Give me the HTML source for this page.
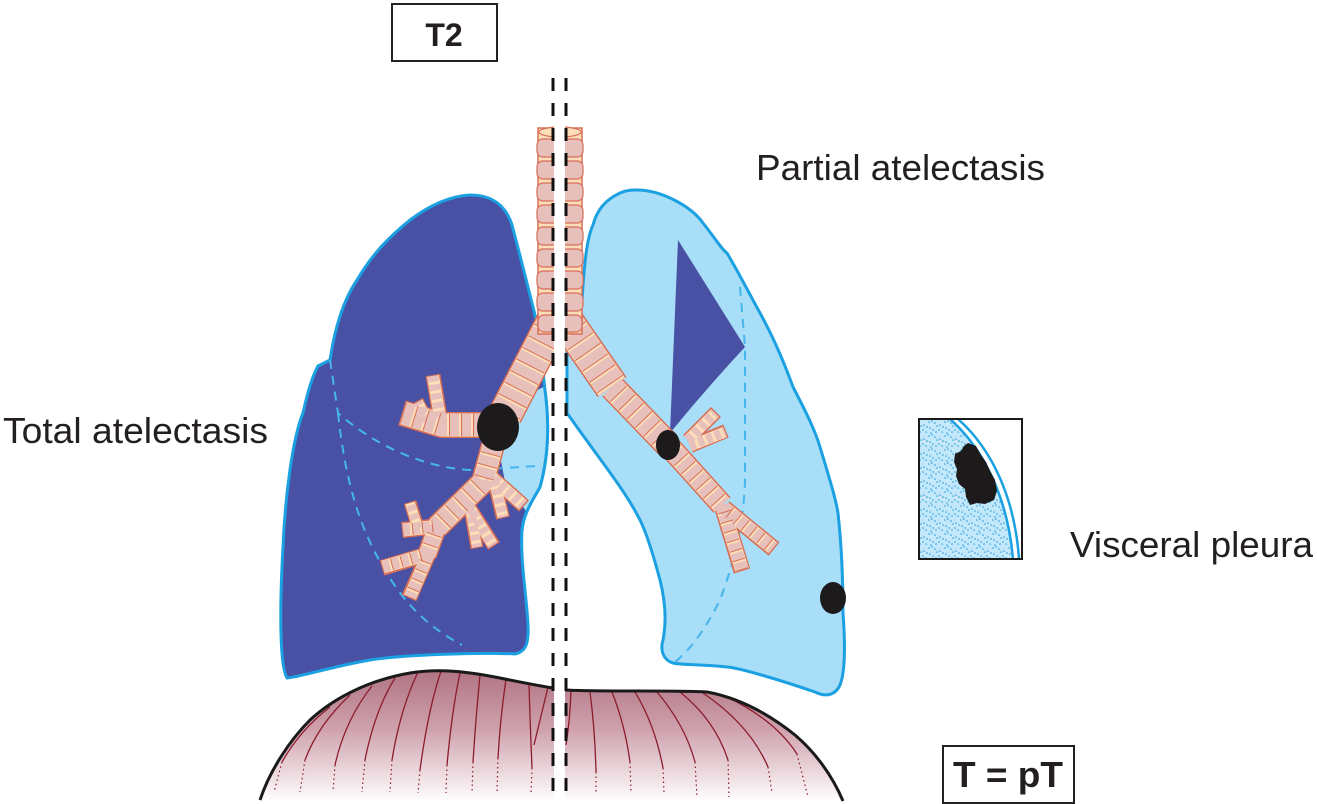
<!DOCTYPE html>
<html>
<head>
<meta charset="utf-8">
<style>
html,body{margin:0;padding:0;background:#fff;}
svg{display:block;}
text{font-family:"Liberation Sans",Arial,sans-serif;fill:#231f20;}
</style>
</head>
<body>
<svg width="1317" height="804" viewBox="0 0 1317 804" xmlns="http://www.w3.org/2000/svg">
<defs>
  <linearGradient id="dg" x1="0" y1="670" x2="0" y2="802" gradientUnits="userSpaceOnUse">
    <stop offset="0" stop-color="#b07383"/>
    <stop offset="0.45" stop-color="#cfa1ad"/>
    <stop offset="1" stop-color="#ffffff"/>
  </linearGradient>
  <pattern id="cells" width="16" height="14" patternUnits="userSpaceOnUse">
    <rect width="16" height="14" fill="#c3e8f9"/>
    <g fill="#2a9fdc">
      <circle cx="1" cy="2" r="0.8"/><circle cx="4" cy="1" r="0.8"/><circle cx="7" cy="3" r="0.8"/>
      <circle cx="9" cy="6" r="0.8"/><circle cx="12" cy="5" r="0.8"/><circle cx="15" cy="7" r="0.8"/>
      <circle cx="2" cy="8" r="0.8"/><circle cx="5" cy="10" r="0.8"/><circle cx="8" cy="12" r="0.8"/>
      <circle cx="11" cy="10" r="0.8"/><circle cx="14" cy="12" r="0.8"/><circle cx="3" cy="13" r="0.8"/>
    </g>
  </pattern>
  <clipPath id="insetClip"><rect x="920" y="420" width="101" height="138"/></clipPath>
</defs>

<!-- LEFT LUNG (total atelectasis) -->
<path d="M470,195 C490,195 505,203 512,225 C520,255 530,295 538,327 L545,390 C549,420 549,455 540,487 C533,500 524,512 522,530 C520,560 527,600 528,625 C529,645 525,652 515,654 C480,652 400,655 370,660 C330,667 300,677 287,678 C279,665 280,600 283,547 C285,500 292,440 303,413 C308,390 313,375 318,366 L330,360 C333,340 340,305 357,280 C370,258 385,240 410,220 C430,205 450,196 470,195 Z" fill="#4851a3" stroke="#1ba1e2" stroke-width="3" stroke-linejoin="round"/>
<path d="M543,387 C549,420 549,455 540,487 C534,498 529,505 526,511 L505,482 L498,445 L520,400 Z" fill="#a8def7"/>
<path d="M545,390 C549,420 549,455 540,487 C533,500 524,512 522,530" fill="none" stroke="#1ba1e2" stroke-width="3"/>
<g fill="none" stroke="#45b6ec" stroke-width="2" stroke-dasharray="9 7">
  <path d="M330,360 L338,413 C380,450 430,468 470,470 L537,466"/>
  <path d="M338,413 C345,480 360,530 385,570 C405,605 430,628 462,645"/>
</g>

<!-- RIGHT LUNG (partial atelectasis) -->
<path d="M637,190 C660,190 690,205 703,223 C715,238 722,250 727,253 C740,275 750,295 760,313 C775,340 785,365 793,387 C805,410 815,430 820,447 C830,480 836,500 838,513 C842,550 843,580 843,613 C845,640 846,670 840,685 C835,696 825,697 815,692 C780,680 740,668 727,667 C700,664 680,665 673,663 C663,660 660,650 663,640 C667,620 665,600 660,580 C652,550 645,530 640,520 C625,490 600,460 567,413 L567,345 C575,335 580,320 582,300 C584,270 586,240 593,225 C597,210 605,200 620,193 C627,190 632,190 637,190 Z" fill="#a8def7" stroke="#1ba1e2" stroke-width="3" stroke-linejoin="round"/>
<g fill="none" stroke="#45b6ec" stroke-width="2" stroke-dasharray="9 7">
  <path d="M740,287 L745,347 L745,480 C744,520 735,560 720,600 C705,630 690,650 675,662"/>
</g>
<path d="M678,240 L745,347 Q705,390 670,433 Z" fill="#4851a3"/>

<!-- BRONCHI -->
<g fill="none" stroke-linejoin="round" stroke-linecap="butt">
  <g stroke="#d66d57">
    <path d="M553,322 L505,415" stroke-width="35"/>
    <path d="M567,322 L612,387" stroke-width="35"/>
    <path d="M612,387 L668,445" stroke-width="27"/>
    <path d="M668,445 L722,505" stroke-width="23"/>
    <path d="M722,505 L742,571" stroke-width="17"/>
    <path d="M724,508 L774,549" stroke-width="17"/>
    <path d="M688,440 L716,412" stroke-width="14"/>
    <path d="M690,446 L726,431" stroke-width="14"/>
    <path d="M495,425 L442,425 L402,413" stroke-width="26"/>
    <path d="M440,417 L433,375" stroke-width="15"/>
    <path d="M428,421 L417,401" stroke-width="13"/>
    <path d="M493,445 L483,482 L437,527" stroke-width="24"/>
    <path d="M440,526 L402,530" stroke-width="16"/>
    <path d="M418,528 L410,502" stroke-width="13"/>
    <path d="M437,527 L427,555" stroke-width="20"/>
    <path d="M428,554 L382,568" stroke-width="16"/>
    <path d="M428,555 L409,598" stroke-width="16"/>
    <path d="M487,473 L524,506" stroke-width="15"/>
    <path d="M494,480 L503,518" stroke-width="14"/>
    <path d="M468,505 L494,546" stroke-width="14"/>
    <path d="M470,508 L477,548" stroke-width="13"/>
  </g>
  <g stroke="#fcdfb8">
    <path d="M553,322 L505,415" stroke-width="32"/>
    <path d="M567,322 L612,387" stroke-width="32"/>
    <path d="M612,387 L668,445" stroke-width="24"/>
    <path d="M668,445 L722,505" stroke-width="20"/>
    <path d="M722,505 L742,570" stroke-width="14"/>
    <path d="M724,508 L773,548" stroke-width="14"/>
    <path d="M688,440 L715,413" stroke-width="11"/>
    <path d="M690,446 L725,432" stroke-width="11"/>
    <path d="M495,425 L442,425 L403,413" stroke-width="23"/>
    <path d="M440,417 L433,376" stroke-width="12"/>
    <path d="M428,421 L418,402" stroke-width="10"/>
    <path d="M493,445 L483,482 L437,527" stroke-width="21"/>
    <path d="M440,526 L403,530" stroke-width="13"/>
    <path d="M418,528 L410,503" stroke-width="10"/>
    <path d="M437,527 L427,555" stroke-width="17"/>
    <path d="M428,554 L383,567" stroke-width="13"/>
    <path d="M428,555 L410,597" stroke-width="13"/>
    <path d="M487,473 L523,505" stroke-width="12"/>
    <path d="M494,480 L503,517" stroke-width="11"/>
    <path d="M468,505 L493,545" stroke-width="11"/>
    <path d="M470,508 L477,547" stroke-width="10"/>
  </g>
  <g stroke="#e7c0bc">
    <path d="M553,322 L505,415" stroke-width="31" stroke-dasharray="10 3"/>
    <path d="M567,322 L612,387" stroke-width="31" stroke-dasharray="10 3"/>
    <path d="M612,387 L668,445" stroke-width="23" stroke-dasharray="9 3"/>
    <path d="M668,445 L722,505" stroke-width="19" stroke-dasharray="8 3"/>
    <path d="M722,505 L742,570" stroke-width="13" stroke-dasharray="7 3"/>
    <path d="M724,508 L773,548" stroke-width="13" stroke-dasharray="7 3"/>
    <path d="M688,440 L715,413" stroke-width="10" stroke-dasharray="6 3"/>
    <path d="M690,446 L725,432" stroke-width="10" stroke-dasharray="6 3"/>
    <path d="M495,425 L442,425 L403,413" stroke-width="22" stroke-dasharray="9 3"/>
    <path d="M440,417 L433,376" stroke-width="11" stroke-dasharray="6 3"/>
    <path d="M428,421 L418,402" stroke-width="9" stroke-dasharray="6 3"/>
    <path d="M493,445 L483,482 L437,527" stroke-width="20" stroke-dasharray="9 3"/>
    <path d="M440,526 L403,530" stroke-width="12" stroke-dasharray="7 3"/>
    <path d="M418,528 L410,503" stroke-width="9" stroke-dasharray="6 3"/>
    <path d="M437,527 L427,555" stroke-width="16" stroke-dasharray="8 3"/>
    <path d="M428,554 L383,567" stroke-width="12" stroke-dasharray="7 3"/>
    <path d="M428,555 L410,597" stroke-width="12" stroke-dasharray="7 3"/>
    <path d="M487,473 L523,505" stroke-width="11" stroke-dasharray="6 3"/>
    <path d="M494,480 L503,517" stroke-width="10" stroke-dasharray="6 3"/>
    <path d="M468,505 L493,545" stroke-width="10" stroke-dasharray="6 3"/>
    <path d="M470,508 L477,547" stroke-width="9" stroke-dasharray="6 3"/>
  </g>
  <!-- ring edge lines -->
  <g stroke="#d66d57">
    <path d="M553,322 L505,415" stroke-width="31" stroke-dasharray="1 12" stroke-dashoffset="-10"/>
    <path d="M567,322 L612,387" stroke-width="31" stroke-dasharray="1 12" stroke-dashoffset="-10"/>
    <path d="M612,387 L668,445" stroke-width="23" stroke-dasharray="1 11" stroke-dashoffset="-9"/>
    <path d="M668,445 L722,505" stroke-width="19" stroke-dasharray="1 10" stroke-dashoffset="-8"/>
    <path d="M722,505 L742,570" stroke-width="13" stroke-dasharray="1 9" stroke-dashoffset="-7"/>
    <path d="M724,508 L773,548" stroke-width="13" stroke-dasharray="1 9" stroke-dashoffset="-7"/>
    <path d="M495,425 L442,425 L403,413" stroke-width="22" stroke-dasharray="1 11" stroke-dashoffset="-9"/>
    <path d="M493,445 L483,482 L437,527" stroke-width="20" stroke-dasharray="1 11" stroke-dashoffset="-9"/>
    <path d="M437,527 L427,555" stroke-width="16" stroke-dasharray="1 10" stroke-dashoffset="-8"/>
    <path d="M428,554 L383,567" stroke-width="12" stroke-dasharray="1 9" stroke-dashoffset="-7"/>
    <path d="M428,555 L410,597" stroke-width="12" stroke-dasharray="1 9" stroke-dashoffset="-7"/>
    <path d="M440,526 L403,530" stroke-width="12" stroke-dasharray="1 9" stroke-dashoffset="-7"/>
  </g>
</g>

<!-- TRACHEA -->
<rect x="538" y="128" width="44" height="206" fill="#fcdfb8" stroke="#d66d57" stroke-width="1.5"/>
<g fill="#e7c0bc" stroke="#d66d57" stroke-width="1.2">
  <rect x="537" y="139" width="46" height="18" rx="6"/>
  <rect x="537" y="161" width="46" height="18" rx="6"/>
  <rect x="537" y="183" width="46" height="18" rx="6"/>
  <rect x="537" y="205" width="46" height="18" rx="6"/>
  <rect x="537" y="227" width="46" height="18" rx="6"/>
  <rect x="537" y="249" width="46" height="18" rx="6"/>
  <rect x="537" y="271" width="46" height="18" rx="6"/>
  <rect x="537" y="293" width="46" height="18" rx="6"/>
  <rect x="538" y="315" width="44" height="17" rx="6"/>
</g>
<ellipse cx="560" cy="132" rx="21" ry="5" fill="#fcdfb8" stroke="#d66d57" stroke-width="1.2"/>

<!-- TUMOURS -->
<ellipse cx="498" cy="427" rx="21" ry="24" fill="#1c1a1b"/>
<ellipse cx="668" cy="445" rx="12" ry="15" fill="#1c1a1b"/>
<ellipse cx="833" cy="598" rx="13" ry="16" fill="#1c1a1b"/>

<!-- DIAPHRAGM -->
<path d="M260,804 L260,800 C270,770 290,740 310,720 C335,697 370,680 410,673 C440,668 470,672 500,678 C520,682 540,686 553,688 L566,690 C600,692 680,690 707,692 C740,698 770,715 795,735 C815,752 832,775 843,801 L843,804 Z" fill="url(#dg)"/>
<g fill="none" stroke="#8c1c2c" stroke-width="1.3">
  <path d="M330,707 Q300,730 282,762"/><path d="M350,695 Q318,725 305,760"/>
  <path d="M372,686 Q345,720 335,765"/><path d="M395,678 Q375,710 365,760"/>
  <path d="M418,672 Q400,710 392,760"/><path d="M441,671 Q428,710 420,770"/>
  <path d="M460,673 Q452,710 447,765"/><path d="M480,675 Q476,715 473,762"/>
  <path d="M506,679 Q500,720 498,758"/><path d="M529,684 Q530,720 532,768"/>
  <path d="M548,687 Q540,720 534,745"/><path d="M571,691 Q570,720 566,745"/>
  <path d="M590,692 Q595,730 596,772"/><path d="M612,692 Q625,725 630,762"/>
  <path d="M635,692 Q655,725 663,768"/><path d="M657,692 Q685,725 695,762"/>
  <path d="M680,692 Q715,720 728,760"/><path d="M703,693 Q750,725 768,767"/>
  <path d="M727,697 Q775,720 797,754"/>
</g>
<g fill="none" stroke="#8c1c2c" stroke-width="1.2" stroke-dasharray="1.5 3">
  <path d="M282,762 L274,792"/><path d="M305,760 L300,792"/><path d="M335,765 L333,792"/>
  <path d="M365,760 L362,792"/><path d="M392,760 L390,792"/><path d="M420,770 L418,793"/>
  <path d="M447,765 L446,793"/><path d="M473,762 L472,793"/><path d="M498,758 L497,793"/>
  <path d="M532,768 L531,793"/><path d="M596,772 L596,793"/><path d="M630,762 L631,793"/>
  <path d="M663,768 L664,793"/><path d="M695,762 L697,797"/><path d="M728,760 L729,797"/>
  <path d="M768,767 L772,793"/><path d="M797,754 L808,797"/>
</g>
<path d="M260,800 C270,770 290,740 310,720 C335,697 370,680 410,673 C440,668 470,672 500,678 C520,682 540,686 553,688 L566,690 C600,692 680,690 707,692 C740,698 770,715 795,735 C815,752 832,775 843,801" fill="none" stroke="#1a1a1a" stroke-width="3"/>

<!-- MIDLINE -->
<rect x="554" y="120" width="11" height="684" fill="#ffffff"/>
<g stroke="#111" stroke-width="3" stroke-dasharray="13 12">
  <line x1="553" y1="78" x2="553" y2="800"/>
  <line x1="566" y1="78" x2="566" y2="800"/>
</g>

<!-- INSET -->
<g clip-path="url(#insetClip)">
  <rect x="919" y="419" width="103" height="140" fill="#ffffff"/>
  <path d="M919,419 L950,419 C985,450 1008,500 1013,559 L919,559 Z" fill="url(#cells)"/>
  <path d="M950,419 C985,450 1008,500 1013,559" fill="none" stroke="#1ba1e2" stroke-width="2.5"/>
  <path d="M958,419 C993,450 1015,500 1019,559" fill="none" stroke="#1ba1e2" stroke-width="2.5"/>
  <path d="M968,443 L976,446 L981,455 L986,462 L990,471 L995,480 L997,491 L994,500 L985,504 L977,503 L970,505 L966,497 L965,489 L959,484 L956,476 L957,469 L954,462 L955,454 L961,451 L964,446 Z" fill="#1c1a1b"/>
</g>
<rect x="919" y="419" width="103" height="140" fill="none" stroke="#1a1a1a" stroke-width="2"/>

<!-- LABEL BOXES -->
<rect x="392" y="4" width="105" height="57" fill="#fff" stroke="#222" stroke-width="2"/>
<text x="444" y="46" font-size="32" font-weight="bold" text-anchor="middle">T2</text>
<rect x="943" y="746" width="131" height="57" fill="#fff" stroke="#222" stroke-width="2"/>
<text x="953" y="787" font-size="36" font-weight="bold" textLength="110" lengthAdjust="spacingAndGlyphs">T = pT</text>

<!-- LABELS -->
<text x="756" y="180" font-size="36" textLength="289" lengthAdjust="spacingAndGlyphs">Partial atelectasis</text>
<text x="3" y="443" font-size="36" textLength="265" lengthAdjust="spacingAndGlyphs">Total atelectasis</text>
<text x="1070" y="557" font-size="36" textLength="243" lengthAdjust="spacingAndGlyphs">Visceral pleura</text>
</svg>
</body>
</html>
